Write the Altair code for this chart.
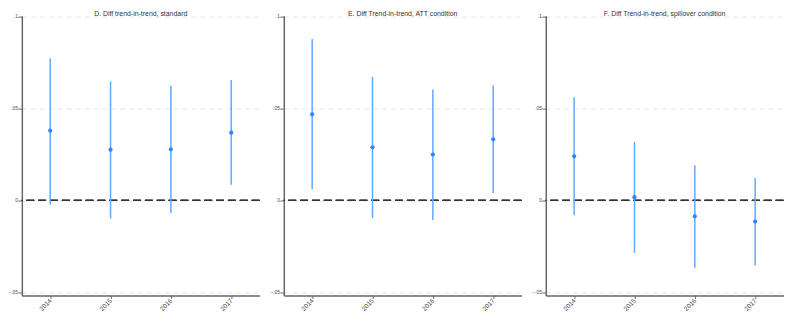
import altair as alt
import pandas as pd

years = ["2014", "2015", "2016", "2017"]

titles = [
    "D. Diff trend-in-trend, standard",
    "E. Diff Trend-in-trend, ATT condition",
    "F. Diff Trend-in-trend, spillover condition",
]

D_est = [0.0380, 0.0276, 0.0278, 0.0369]
D_lo = [-0.0022, -0.0098, -0.0068, 0.0085]
D_hi = [0.0774, 0.0648, 0.0624, 0.0656]

E_est = [0.0469, 0.0289, 0.0250, 0.0333]
E_lo = [0.0061, -0.0095, -0.0106, 0.0041]
E_hi = [0.0878, 0.0672, 0.0604, 0.0625]

F_est = [0.0240, 0.0018, -0.0086, -0.0115]
F_lo = [-0.0081, -0.0285, -0.0366, -0.0354]
F_hi = [0.0561, 0.0319, 0.0192, 0.0122]

y_ticks = [-0.05, 0, 0.05, 0.1]

series = [(D_est, D_lo, D_hi), (E_est, E_lo, E_hi), (F_est, F_lo, F_hi)]

LINE = "#5ea8ff"
DOT = "#2a86ff"
AXIS = "#666666"


def panel(title, est, lo, hi):
    df = pd.DataFrame({"year": years, "est": est, "lo": lo, "hi": hi})
    base = alt.Chart(df)
    x = alt.X(
        "year:N",
        sort=years,
        title=None,
        scale=alt.Scale(type="point", padding=0.47),
        axis=alt.Axis(
            labelAngle=-45,
            labelAlign="right",
            labelBaseline="middle",
            labelFontSize=6.5,
            labelFont="Liberation Sans",
            labelColor="#444444",
            labelPadding=1,
            tickSize=3,
            tickColor=AXIS,
            domainColor=AXIS,
            domainWidth=1.5,
            grid=False,
        ),
    )
    yscale = alt.Scale(domain=[-0.0517, 0.10054], nice=False, zero=False)
    y = alt.Y(
        "lo:Q",
        title=None,
        scale=yscale,
        axis=alt.Axis(
            values=y_ticks,
            labelExpr="replace(format(datum.value, '.2~f'), '0.', '.')",
            labelFontSize=4.8,
            labelFont="Liberation Sans",
            labelColor="#444444",
            labelPadding=0.5,
            tickSize=4,
            tickColor=AXIS,
            domainColor=AXIS,
            domainWidth=1.5,
            grid=True,
            gridColor="#e6e6e6",
            gridDash=[5, 4],
            gridWidth=1,
        ),
    )
    bars = base.mark_rule(color=LINE, strokeWidth=1.5).encode(x=x, y=y, y2="hi:Q")
    pts = base.mark_point(filled=True, color=DOT, size=18, opacity=1).encode(
        x=x, y=alt.Y("est:Q", scale=yscale)
    )
    zero = base.mark_rule(color="#333333", strokeWidth=1.3, strokeDash=[8, 4]).encode(
        y=alt.datum(0)
    )
    return alt.layer(zero, bars, pts).properties(
        width=240.5,
        height=283,
        title=alt.TitleParams(
            title,
            fontSize=7,
            font="Liberation Sans",
            fontWeight="normal",
            color="#333333",
            anchor="middle",
            offset=-3,
        ),
    )


panels = [panel(t, *s) for t, s in zip(titles, series)]

chart = (
    alt.hconcat(*panels, spacing=9)
    .properties(padding=0)
    .configure_view(stroke=None)
)

chart.save("out.html", embed_options={"renderer": "svg", "actions": False})
